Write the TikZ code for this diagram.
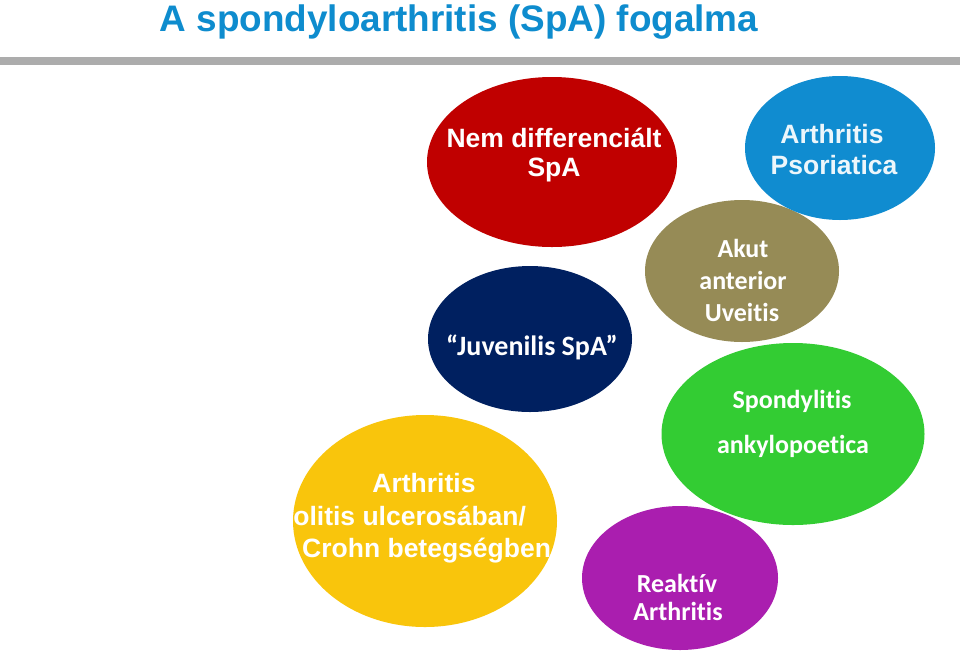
\documentclass[tikz,border=0pt]{standalone}
\usepackage{fontspec}
\usetikzlibrary{shapes.geometric}
\newfontfamily\arialfont{Liberation Sans}
\newfontfamily\calfont{Carlito}[Ligatures={NoCommon}]
\definecolor{cTitle}{RGB}{14,140,206}
\definecolor{cRed}{RGB}{192,0,0}
\definecolor{cBlue}{RGB}{16,140,208}
\definecolor{cOlive}{RGB}{150,139,86}
\definecolor{cGreen}{RGB}{51,204,51}
\definecolor{cPurple}{RGB}{170,30,175}
\definecolor{cNavy}{RGB}{0,32,96}
\definecolor{cYellow}{RGB}{249,197,12}
\definecolor{cGray}{RGB}{172,172,172}
\tikzset{
  blob/.style={ellipse, draw=none, inner sep=0pt, outer sep=0pt},
  atxt/.style={anchor=base, text=white, inner sep=0pt, font=\arialfont\bfseries\fontsize{26.5}{30}\selectfont},
  ctxt/.style={anchor=base, text=white, inner sep=0pt, font=\calfont\bfseries\fontsize{26}{30}\selectfont},
}
\begin{document}
\begin{tikzpicture}[x=1pt,y=-1pt]
\useasboundingbox (0,0) rectangle (960,654);
\fill[white] (0,0) rectangle (960,654);
% title
\node[anchor=base, inner sep=0pt, text=cTitle, font=\arialfont\bfseries\fontsize{36.9}{40}\selectfont] (title) at (459,31) {A spondyloarthritis (SpA) fogalma};
\fill[cGray] (0,57) rectangle (960,65);
% yellow
\node[blob, fill=cYellow, minimum width=264pt, minimum height=212pt] (yel) at (425,521) {};
\begin{scope}
\clip (425,521) ellipse [x radius=132, y radius=106];
\node[atxt] (yel1) at (424,492) {Arthritis};
\node[atxt, anchor=base west] (yel2) at (274,525) {Colitis ulcerosában/};
\node[atxt, anchor=base west] (yel3) at (302,557) {Crohn betegségben};
\end{scope}
% purple
\node[blob, fill=cPurple, minimum width=196pt, minimum height=144pt] (pur) at (680,578) {};
\node[ctxt] (pur1) at (677,592) {Reaktív};
\node[ctxt] (pur2) at (678,620) {Arthritis};
% green
\node[blob, fill=cGreen, minimum width=263pt, minimum height=182pt] (grn) at (793,434) {};
\node[ctxt] (grn1) at (792,408) {Spondylitis};
\node[ctxt] (grn2) at (793,453) {ankylopoetica};
% olive
\node[blob, fill=cOlive, minimum width=194pt, minimum height=142pt] (olv) at (742,271) {};
\node[ctxt] (olv1) at (743,257) {Akut};
\node[ctxt] (olv2) at (743,289) {anterior};
\node[ctxt] (olv3) at (742,321) {Uveitis};
% navy
\node[blob, fill=cNavy, minimum width=204pt, minimum height=146pt] (nav) at (530,339) {};
\node[ctxt, font=\calfont\bfseries\fontsize{28}{30}\selectfont] (nav1) at (532,355) {“Juvenilis SpA”};
% red
\node[blob, fill=cRed, minimum width=250pt, minimum height=170pt] (red) at (552,162) {};
\node[atxt] (red1) at (554,147) {Nem differenciált};
\node[atxt] (red2) at (554,176) {SpA};
% blue
\node[blob, fill=cBlue, minimum width=190pt, minimum height=144pt] (blu) at (840,148) {};
\node[atxt, text=white!92!cBlue] (blu1) at (832,143) {Arthritis};
\node[atxt, text=white!92!cBlue] (blu2) at (834,174) {Psoriatica};
\end{tikzpicture}
\end{document}
